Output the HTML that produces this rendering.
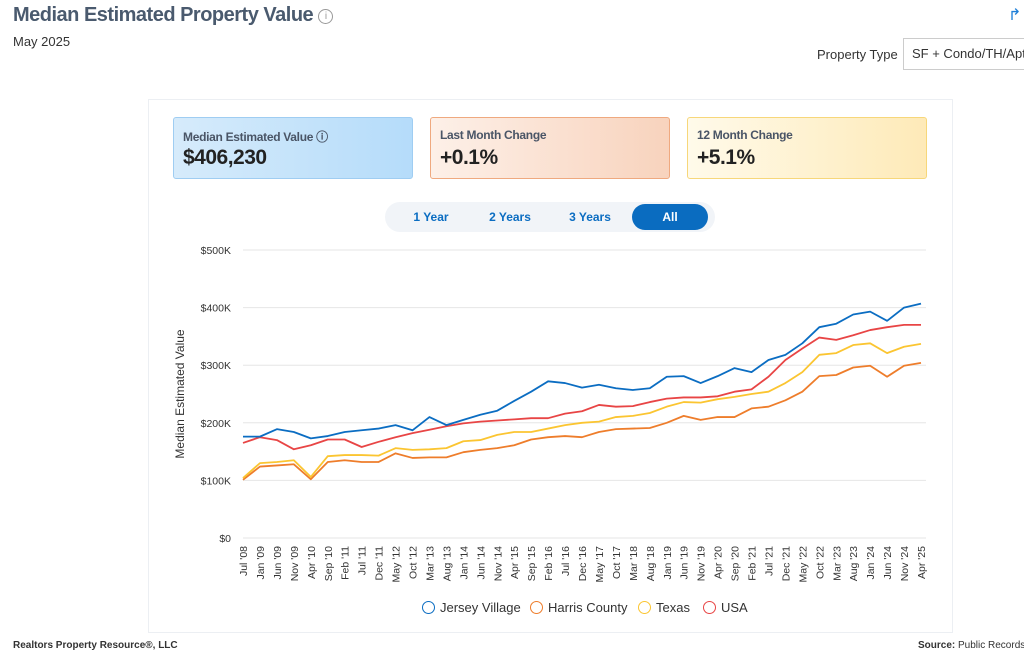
<!DOCTYPE html>
<html><head><meta charset="utf-8"><style>
body{margin:0;width:1024px;height:657px;overflow:hidden;background:#fff;font-family:"Liberation Sans",sans-serif;position:relative;color:#333}
.abs{position:absolute}
.card{position:absolute;top:117px;width:240px;height:62px;border-radius:3px;box-sizing:border-box}
.card .lbl{position:absolute;left:9px;top:10px;font-size:12px;font-weight:bold;color:#4a5566;letter-spacing:-0.3px}
.card .val{position:absolute;left:9px;top:28px;font-size:21px;font-weight:bold;color:#222;letter-spacing:-0.5px}
.btn{position:absolute;top:204px;height:26px;line-height:26px;font-size:12px;color:#0b6dc2;text-align:center;font-weight:bold}
.leg{position:absolute;top:600px;font-size:13px;color:#333}
.leg i{display:inline-block;width:11px;height:11px;border-radius:50%;border:1.5px solid;vertical-align:-2px;margin-right:5px}
</style></head><body>
<div class="abs" style="left:13px;top:4px;font-size:20px;font-weight:bold;color:#4a5a6e;letter-spacing:-0.5px">Median Estimated Property Value <span style="display:inline-block;width:13px;height:13px;border:1.3px solid #999;border-radius:50%;font-size:10px;line-height:13px;text-align:center;color:#999;font-weight:normal;vertical-align:2px">i</span></div>
<div class="abs" style="left:13px;top:34px;font-size:13px;color:#333">May 2025</div>
<div class="abs" style="left:1008px;top:5px;font-size:16px;color:#1e7fd8">↱</div>
<div class="abs" style="left:817px;top:47px;font-size:13px;color:#333">Property Type</div>
<div class="abs" style="left:903px;top:38px;width:130px;height:32px;border:1px solid #ccc;box-sizing:border-box;font-size:13px;line-height:30px;padding-left:8px;white-space:nowrap;overflow:hidden">SF + Condo/TH/Apt</div>
<div class="abs" style="left:148px;top:99px;width:805px;height:534px;border:1px solid #eceff3;box-sizing:border-box"></div>
<div class="card" style="left:173px;background:linear-gradient(90deg,#d6ebfb,#b5dcfa);border:1px solid #9fcdf2"><div class="lbl">Median Estimated Value ⓘ</div><div class="val">$406,230</div></div>
<div class="card" style="left:430px;background:linear-gradient(90deg,#fdf0e8,#f8d3bd);border:1px solid #efa97f"><div class="lbl">Last Month Change</div><div class="val">+0.1%</div></div>
<div class="card" style="left:687px;background:linear-gradient(90deg,#fffaea,#feeab8);border:1px solid #f7d77a"><div class="lbl">12 Month Change</div><div class="val">+5.1%</div></div>
<div class="abs" style="left:385px;top:202px;width:330px;height:30px;background:#f1f4f8;border-radius:15px"></div>
<div class="btn" style="left:400px;width:62px">1 Year</div>
<div class="btn" style="left:478px;width:64px">2 Years</div>
<div class="btn" style="left:558px;width:64px">3 Years</div>
<div class="btn" style="left:632px;width:76px;background:#0a6cc0;color:#fff;border-radius:13px">All</div>
<svg class="abs" id="chart" style="left:0;top:0" width="1024" height="657"></svg>
<div class="leg" style="left:422px"><i style="border-color:#0b6dc2"></i>Jersey Village</div>
<div class="leg" style="left:530px"><i style="border-color:#ee7d2b"></i>Harris County</div>
<div class="leg" style="left:638px"><i style="border-color:#fbc531"></i>Texas</div>
<div class="leg" style="left:703px"><i style="border-color:#e84545"></i>USA</div>
<div class="abs" style="left:13px;top:640px;font-size:10px;font-weight:bold;color:#333">Realtors Property Resource®, LLC</div>
<div class="abs" style="left:918px;top:640px;font-size:10px;color:#333;white-space:nowrap"><b>Source:</b> Public Records</div>
<script>
const tickLabels=["Jul '08","Jan '09","Jun '09","Nov '09","Apr '10","Sep '10","Feb '11","Jul '11","Dec '11","May '12","Oct '12","Mar '13","Aug '13","Jan '14","Jun '14","Nov '14","Apr '15","Sep '15","Feb '16","Jul '16","Dec '16","May '17","Oct '17","Mar '18","Aug '18","Jan '19","Jun '19","Nov '19","Apr '20","Sep '20","Feb '21","Jul '21","Dec '21","May '22","Oct '22","Mar '23","Aug '23","Jan '24","Jun '24","Nov '24","Apr '25"];
const yTicks=[0,100,200,300,400,500];
const jersey=[176,176,189,184,173,177,184,187,190,196,187,210,196,205,214,221,238,254,272,269,261,266,260,257,260,280,281,269,281,295,288,309,318,338,366,372,388,393,377,400,407];
const harris=[101,124,126,128,102,132,135,132,132,147,139,140,140,149,153,156,161,171,175,177,175,184,189,190,191,200,212,205,210,210,225,228,239,254,281,283,296,299,280,299,304];
const texas=[104,130,132,135,106,142,144,144,143,156,153,154,156,168,170,179,184,184,190,196,200,202,210,212,217,228,236,235,241,245,250,254,269,288,318,321,335,338,321,332,337];
const usa=[165,175,170,154,161,171,171,158,167,175,182,188,194,199,202,204,206,208,208,216,220,231,228,229,236,242,244,244,246,254,258,280,309,329,348,344,352,361,366,370,370];
const NS='http://www.w3.org/2000/svg';
const svg=document.getElementById('chart');
const x0=243,x1=921,y0=538,y1=250;
const xs=i=>x0+(x1-x0)*i/(tickLabels.length-1);
const ys=v=>y0-(y0-y1)*v/500;
function mk(t,a){const e=document.createElementNS(NS,t);for(const k in a)e.setAttribute(k,a[k]);svg.appendChild(e);return e;}
yTicks.forEach(v=>{
 const l=mk('line',{x1:x0,x2:x1+5,y1:ys(v),y2:ys(v),stroke:'#e6e6e6','stroke-width':1});
 
 
 const t=mk('text',{x:231,y:ys(v)+4,'text-anchor':'end','font-size':10.5,fill:'#333','font-family':'Liberation Sans'});
 t.textContent=v===0?'$0':'$'+v+'K';
 
 
});
tickLabels.forEach((s,i)=>{
 const t=mk('text',{transform:`translate(${xs(i)+4},546) rotate(-90)`,'text-anchor':'end','font-size':10.5,fill:'#333','font-family':'Liberation Sans'});
 t.textContent=s;
 
 
});
const yt=mk('text',{transform:'translate(184,394) rotate(-90)','text-anchor':'middle','font-size':12,fill:'#333','font-family':'Liberation Sans'});
yt.textContent='Median Estimated Value';


[[harris,'#ee7d2b','harris-county-line'],[texas,'#fbc531','texas-line'],[usa,'#e84545','usa-line'],[jersey,'#0b6dc2','jersey-village-line']].forEach(([d,c,n])=>{
 const p=mk('polyline',{points:d.map((v,i)=>xs(i)+','+ys(v)).join(' '),fill:'none',stroke:c,'stroke-width':1.8,'stroke-linejoin':'round'});
 
 
});
</script>
</body></html>
